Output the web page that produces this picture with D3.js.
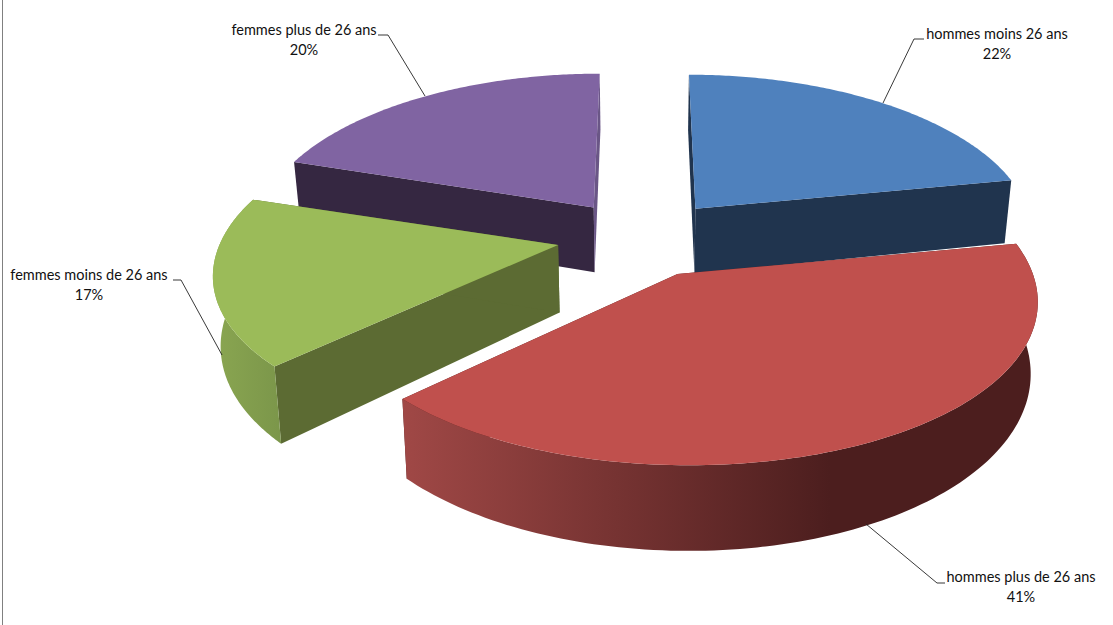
<!DOCTYPE html>
<html><head><meta charset="utf-8">
<script src="https://cdn.jsdelivr.net/npm/d3@7"></script>
<style>html,body{margin:0;background:#fff}svg{display:block}text{font-family:Lato,"Open Sans",sans-serif;font-size:14.5px;fill:#111}</style>
</head><body><script>
const categories = ["hommes moins 26 ans","hommes plus de 26 ans","femmes moins de 26 ans","femmes plus de 26 ans"];
const values = [22,41,17,20];
const topColors = ["#4f81bd","#c0504d","#9bbb59","#8064a2"];
const innerWallColors = ["#20344e","#4f1f1e","#5c6b33","#352741"];
const outerWallStops = [["#a04846","#4c1e1e"],["#8aa651","#7b964a"]];
const outerWallSlices = [1,2];
const paintOrder = [3,0,2,1];
const W=1113,H=625;
// camera model
const x0=643,y0=236,A=340,B=157,kx=0.145,ky=0.13,kz=0.18,explodeX=0.248,explodeY=0.23,thick=67,shrink=0.018;
// small per-slice nudges, in pixels: the rim and the apex
const rimNudge=[[0,-1],[0,5],[1,3],[-1,-1]];
const apexNudge=[[0,1],[-5,0],[-3,-2],[0,1]];
function proj(u,v,z,n){
  const sx=1/(1+kx*v),sy=1/(1+ky*v),sz=1/(1+kz*v);
  const x=x0+A*u*sx, y=y0-B*v*sy;
  return [x0+(x-x0)*(1-shrink*z)+n[0], y+thick*sz*z+n[1]];
}
const svg=d3.select("body").append("svg").attr("width",W).attr("height",H);
const defs=svg.append("defs");
svg.append("line").attr("x1",2.5).attr("x2",2.5).attr("y1",0).attr("y2",H).attr("stroke","#808080");
const arcs=d3.pie().sort(null).value(d=>d)(values);
const line=d3.line();
arcs.forEach((a,i)=>{a.mid=(a.startAngle+a.endAngle)/2;a.ox=explodeX*Math.sin(a.mid);a.oy=explodeY*Math.cos(a.mid);
  a.pt=(ang,z)=>proj(a.ox+Math.sin(ang),a.oy+Math.cos(ang),z,rimNudge[i]);
  a.c=z=>proj(a.ox,a.oy,z,apexNudge[i].map((d,j)=>d+rimNudge[i][j]));
  a.arcPts=z=>d3.range(0,121).map(j=>a.pt(a.startAngle+(a.endAngle-a.startAngle)*j/120,z));
});
paintOrder.forEach(i=>{
  const a=arcs[i],g=svg.append("g").attr("class","slice");
  const wall=ang=>line([a.c(0),a.pt(ang,0),a.pt(ang,1),a.c(1)])+"Z";
  g.append("path").attr("d",wall(a.startAngle)).attr("fill",innerWallColors[i]);
  g.append("path").attr("d",wall(a.endAngle)).attr("fill",i===3?"#6a5686":innerWallColors[i]);
  const t=a.arcPts(0),b=a.arcPts(1);
  const w=outerWallSlices.indexOf(i);
  if(w>=0){
    const ext=d3.extent(t.concat(b),p=>p[0]);
    const id="g"+i;
    const lg=defs.append("linearGradient").attr("id",id).attr("gradientUnits","userSpaceOnUse")
      .attr("x1",ext[0]).attr("x2",i===1?830:ext[1]).attr("y1",0).attr("y2",0);
    lg.append("stop").attr("offset",0).attr("stop-color",outerWallStops[w][0]);
    lg.append("stop").attr("offset",1).attr("stop-color",outerWallStops[w][1]);
    g.append("path").attr("d",line(t.concat(b.slice().reverse()))+"Z").attr("fill",`url(#${id})`);
  }
  g.append("path").attr("d",line([a.c(0)].concat(t))+"Z").attr("fill",topColors[i]);
});
// labels
const labelAnchors=[[997,39],[1021,582],[89,280],[304,35]];
const leaders=[[[924,39],[914,39],[883,103]],[[945,583],[937,583],[866,524]],[[173,280],[181,280],[222,355]],[[378,35],[388,35],[425,96]]];
categories.forEach((c,i)=>{
  svg.append("path").attr("d",line(leaders[i])).attr("fill","none").attr("stroke","#222").attr("stroke-width",0.9);
  const t=svg.append("text").attr("text-anchor","middle").attr("transform",`translate(${labelAnchors[i]})`);
  t.append("tspan").attr("x",0).attr("y",0).text(c);
  t.append("tspan").attr("x",0).attr("y",20).text(d3.format(".0%")(arcs[i].value/100));
});
</script></body></html>
